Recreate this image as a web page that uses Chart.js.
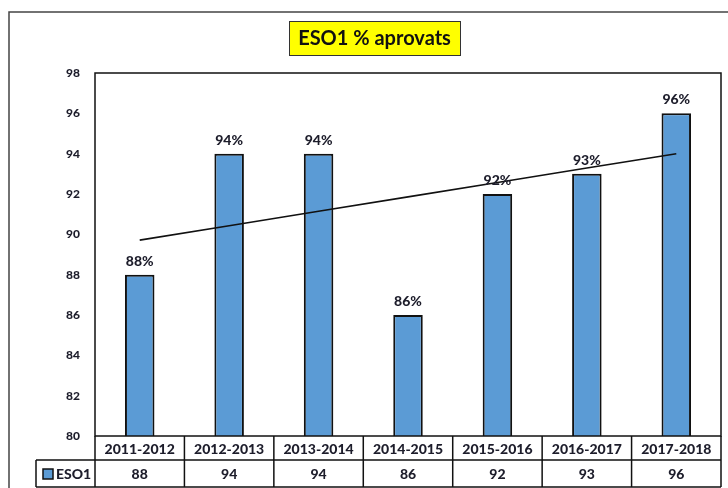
<!DOCTYPE html>
<html>
<head>
<meta charset="utf-8">
<title>ESO1 % aprovats</title>
<script src="https://cdn.jsdelivr.net/npm/chart.js@4"></script>
<style>
    html, body { margin: 0; padding: 0; background: #fff; }
    #wrap { width: 728px; height: 488px; position: relative; }
</style>
</head>
<body>
<div id="wrap"><canvas id="esoChart" width="728" height="488"></canvas></div>
<script>
// ============================================
// DATA
// ============================================

const courses = ['2011-2012', '2012-2013', '2013-2014', '2014-2015', '2015-2016', '2016-2017', '2017-2018'];
const approved = [88, 94, 94, 86, 92, 93, 96];
const seriesName = 'ESO1';
const chartTitle = 'ESO1 % aprovats';
const yMin = 80;
const yMax = 98;
const yStep = 2;

const FONT = 'Lato, "Open Sans", sans-serif';
const TEXT = '#1d1d2b';
const BAR_FILL = '#5b9bd5';

// linear trend (least squares) of the series
function trendValues(values) {
    const n = values.length;
    const mx = (n - 1) / 2;
    const my = values.reduce((a, b) => a + b, 0) / n;
    let num = 0, den = 0;
    values.forEach((v, i) => {
        num += (i - mx) * (v - my);
        den += (i - mx) * (i - mx);
    });
    const slope = num / den;
    return values.map((v, i) => my + slope * (i - mx));
}

// ============================================
// DECORATION PLUGIN (frame, title, labels, data table)
// ============================================

const decorPlugin = {
    id: 'decor',
    afterDraw(chart) {
        const ctx = chart.ctx;
        const area = chart.chartArea;
        const x = chart.scales.x;
        const y = chart.scales.y;
        const colW = (area.right - area.left) / courses.length;

        ctx.save();

        // outer frame (runs off the right/bottom edge)
        ctx.strokeStyle = '#444';
        ctx.lineWidth = 1.5;
        ctx.strokeRect(9, 12, 760, 520);

        // title box
        ctx.font = 'bold 20px ' + FONT;
        ctx.fillStyle = '#ffff00';
        ctx.fillRect(289, 21, 171, 34);
        ctx.strokeStyle = '#333';
        ctx.lineWidth = 1;
        ctx.strokeRect(289.5, 21.5, 171, 34);
        ctx.fillStyle = '#111';
        ctx.textAlign = 'center';
        ctx.textBaseline = 'middle';
        ctx.fillText(chartTitle, 374.5, 38.5);

        // plot border
        ctx.strokeStyle = '#111';
        ctx.lineWidth = 1.5;
        ctx.strokeRect(area.left, area.top, area.right - area.left, area.bottom - area.top);

        // value labels above bars
        ctx.font = '900 14px ' + FONT;
        ctx.fillStyle = TEXT;
        ctx.textBaseline = 'alphabetic';
        approved.forEach((v, i) => {
            ctx.fillText(v + '%', x.getPixelForValue(i), y.getPixelForValue(v) - 9);
        });

        // data table
        const row1Top = area.bottom;
        const row1Bot = area.bottom + 24;
        const row2Bot = area.bottom + 51;
        const legLeft = 36;

        ctx.strokeStyle = '#111';
        ctx.lineWidth = 1.5;
        ctx.beginPath();
        ctx.moveTo(legLeft, row1Bot);
        ctx.lineTo(area.right, row1Bot);
        ctx.moveTo(legLeft, row2Bot);
        ctx.lineTo(area.right, row2Bot);
        ctx.moveTo(legLeft, row1Bot);
        ctx.lineTo(legLeft, row2Bot);
        for (let i = 0; i <= courses.length; i++) {
            const cx = area.left + i * colW;
            ctx.moveTo(cx, row1Top);
            ctx.lineTo(cx, row2Bot);
        }
        ctx.stroke();

        ctx.font = '900 14px ' + FONT;
        ctx.fillStyle = TEXT;
        ctx.textAlign = 'center';
        ctx.textBaseline = 'middle';
        courses.forEach((c, i) => {
            const cx = x.getPixelForValue(i);
            ctx.fillText(c, cx, (row1Top + row1Bot) / 2 + 1);
            ctx.fillText(String(approved[i]), cx, (row1Bot + row2Bot) / 2 + 1);
        });

        // legend key
        ctx.fillStyle = BAR_FILL;
        ctx.fillRect(43, 469, 10, 10);
        ctx.strokeStyle = '#111';
        ctx.lineWidth = 1.5;
        ctx.strokeRect(43, 469, 10, 10);
        ctx.fillStyle = TEXT;
        ctx.textAlign = 'left';
        ctx.font = '900 14px ' + FONT;
        ctx.fillText(seriesName, 56, (row1Bot + row2Bot) / 2 + 1);

        ctx.restore();
    }
};

// ============================================
// CHART
// ============================================

const ctx = document.getElementById('esoChart');

new Chart(ctx, {
    type: 'bar',
    data: {
        labels: courses,
        datasets: [{
            type: 'line',
            label: 'Tendència',
            data: trendValues(approved),
            borderColor: '#111',
            borderWidth: 1.6,
            pointRadius: 0,
            fill: false,
            order: 0
        }, {
            label: seriesName,
            data: approved,
            backgroundColor: BAR_FILL,
            borderColor: '#111',
            borderWidth: 2,
            borderSkipped: 'bottom',
            barPercentage: 0.33,
            categoryPercentage: 1,
            order: 1
        }]
    },
    options: {
        responsive: false,
        animation: false,
        events: [],
        layout: {
            padding: { top: 73, left: 0, right: 7, bottom: 52 }
        },
        plugins: {
            legend: { display: false },
            title: { display: false },
            tooltip: { enabled: false }
        },
        scales: {
            x: {
                display: false,
                offset: true
            },
            y: {
                min: yMin,
                max: yMax,
                border: { display: false },
                grid: { display: false, drawTicks: false },
                ticks: {
                    stepSize: yStep,
                    padding: 15,
                    color: TEXT,
                    font: { family: FONT, size: 12, weight: '900' }
                },
                afterFit(scale) {
                    scale.width = 95;
                }
            }
        }
    },
    plugins: [decorPlugin]
});
</script>
</body>
</html>
